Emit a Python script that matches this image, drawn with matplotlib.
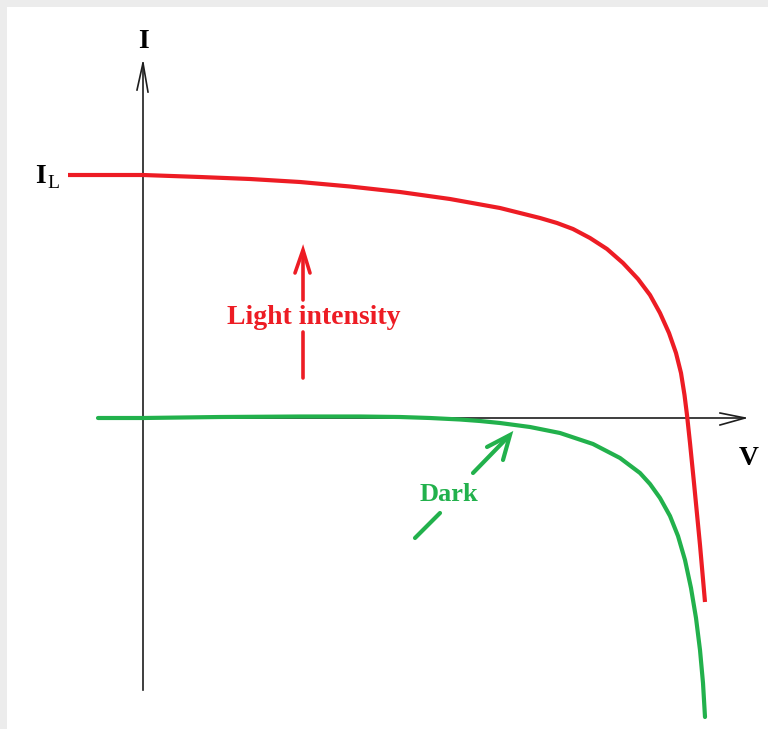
import matplotlib
matplotlib.use("Agg")
import matplotlib.pyplot as plt
from matplotlib.patches import Rectangle

# I-V characteristics of a solar cell (arbitrary units)
# Illuminated cell
v_light = [-0.75, 0.00, 0.57, 1.07, 1.57, 2.07, 2.57, 3.07, 3.57, 3.97, 4.14,
           4.30, 4.47, 4.64, 4.80, 4.95, 5.07, 5.17, 5.26, 5.33, 5.38, 5.415,
           5.44, 5.47, 5.51, 5.57, 5.62]
i_light = [2.42, 2.42, 2.40, 2.38, 2.35, 2.305, 2.25, 2.18, 2.09, 1.99, 1.94,
           1.88, 1.79, 1.68, 1.54, 1.38, 1.22, 1.04, 0.84, 0.64, 0.44, 0.22,
           0.02, -0.26, -0.66, -1.28, -1.85]
# Cell in the dark
v_dark = [-0.45, 0.00, 0.77, 1.57, 2.17, 2.57, 2.87, 3.17, 3.37, 3.57, 3.87,
          4.17, 4.50, 4.77, 4.97, 5.07, 5.17, 5.27, 5.35, 5.42, 5.48, 5.53,
          5.57, 5.60, 5.62]
i_dark = [-0.01, -0.01, 0.00, 0.005, 0.005, 0.0, -0.01, -0.025, -0.04, -0.06,
          -0.10, -0.16, -0.27, -0.41, -0.56, -0.67, -0.81, -0.99, -1.19, -1.43,
          -1.71, -2.01, -2.33, -2.66, -3.00]

RED = "#ed1c24"
GREEN = "#22b14c"
AXIS = "#1e1e1e"
SERIF = ["Liberation Serif", "DejaVu Serif"]

fig = plt.figure(figsize=(7.68, 7.29), dpi=100)
fig.patch.set_facecolor("white")
ax = fig.add_axes([0, 0, 1, 1])
ax.set_xlim(-1.43, 6.25)
ax.set_ylim(-3.12, 4.17)
ax.axis("off")

# light grey frame strips along top and left
fig.patches.append(Rectangle((0, 1 - 7 / 729), 1, 7 / 729, transform=fig.transFigure,
                             facecolor="#ececec", edgecolor="none", zorder=0))
fig.patches.append(Rectangle((0, 0), 7 / 768, 1, transform=fig.transFigure,
                             facecolor="#ececec", edgecolor="none", zorder=0))

# axes with open arrow heads
ax.plot([0, 0], [-2.73, 3.54], color=AXIS, lw=1.2, zorder=2)
ax.plot([-0.06, 0.0, 0.05], [3.27, 3.54, 3.25], color=AXIS, lw=1.2, zorder=2)
ax.plot([0, 6.02], [-0.01, -0.01], color=AXIS, lw=1.2, zorder=2)
ax.plot([5.77, 6.02, 5.77], [0.04, -0.01, -0.08], color=AXIS, lw=1.2, zorder=2)

# curves
ax.plot(v_light, i_light, color=RED, lw=3.0, solid_capstyle="butt",
        solid_joinstyle="round", zorder=3)
ax.plot(v_dark, i_dark, color=GREEN, lw=3.0, solid_capstyle="round",
        solid_joinstyle="round", zorder=3)

# axis labels
ax.text(0.0, 3.69, "I", fontsize=20, fontweight="bold", family=SERIF,
        ha="center", va="baseline", color="black")
ax.text(-1.03, 2.34, "I", fontsize=20, fontweight="bold", family=SERIF,
        ha="center", va="baseline", color="black")
ax.text(-0.96, 2.29, "L", fontsize=14, family=SERIF,
        ha="left", va="baseline", color="black")
ax.text(6.055, -0.48, "V", fontsize=20, fontweight="bold", family=SERIF,
        ha="center", va="baseline", color="black")

# light intensity arrow
ax.plot([1.60, 1.60], [0.39, 0.85], color=RED, lw=2.6, solid_capstyle="round", zorder=3)
ax.plot([1.60, 1.60], [1.17, 1.66], color=RED, lw=2.6, solid_capstyle="round", zorder=3)
ax.plot([1.52, 1.60, 1.67], [1.44, 1.67, 1.44], color=RED, lw=2.6,
        solid_capstyle="round", solid_joinstyle="miter", zorder=3)
ax.text(1.71, 0.93, "Light intensity", fontsize=20, fontweight="bold", family=SERIF,
        ha="center", va="baseline", color=RED)

# dark arrow
ax.plot([2.72, 2.97], [-1.21, -0.96], color=GREEN, lw=3.0, solid_capstyle="round", zorder=3)
ax.plot([3.30, 3.66], [-0.56, -0.19], color=GREEN, lw=3.0, solid_capstyle="round", zorder=3)
ax.plot([3.44, 3.67, 3.60], [-0.30, -0.18, -0.43], color=GREEN, lw=3.0,
        solid_capstyle="round", solid_joinstyle="miter", zorder=3)
ax.text(3.055, -0.84, "Dark", fontsize=19, fontweight="bold", family=SERIF,
        ha="center", va="baseline", color=GREEN)

fig.savefig("out.png", dpi=100, facecolor="white")
